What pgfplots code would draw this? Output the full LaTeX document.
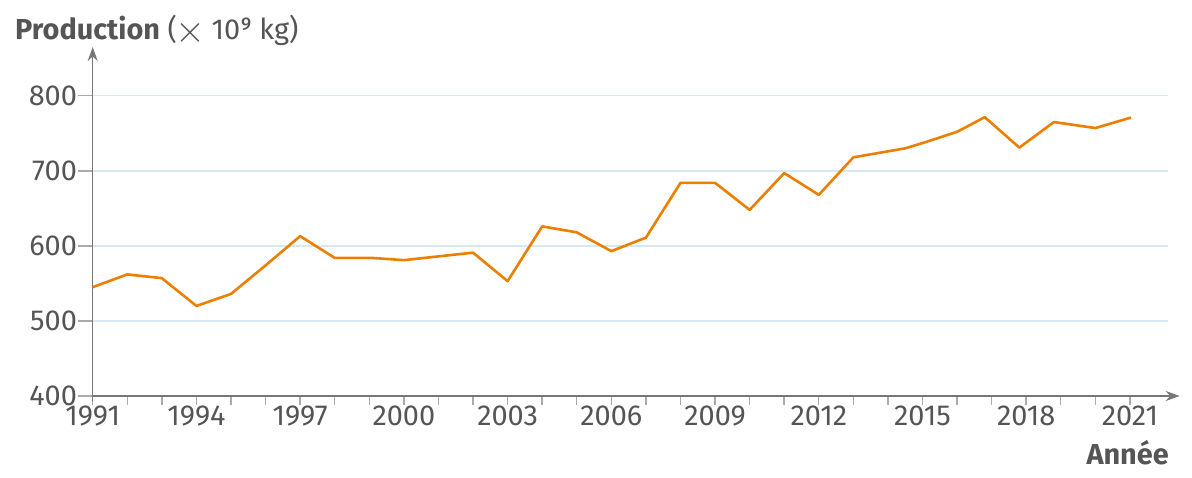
\documentclass[border=0pt]{standalone}
\usepackage{graphicx}
\usepackage{pgfplots}
\pgfplotsset{compat=1.18}
\usetikzlibrary{arrows.meta}
\usepackage{fontspec}
\setmainfont{Fira Sans}
\definecolor{txt}{HTML}{555555}
\definecolor{axisgray}{HTML}{777777}
\definecolor{tickgray}{HTML}{AAAAAA}
\definecolor{gridblue}{HTML}{D3E9F3}
\definecolor{lineorange}{HTML}{EC7F00}
\begin{document}
\begin{tikzpicture}
\useasboundingbox (-92.7bp,-82bp) rectangle (1099.3bp,396bp);
\begin{axis}[
  at={(0,0)}, anchor=south west,
  scale only axis,
  width=1075bp, height=349bp,
  xmin=1991, xmax=2022.09,
  ymin=400, ymax=865,
  axis x line=bottom, axis y line=left,
  axis line style={axisgray, line width=1.6bp},
  x axis line style={-{Stealth[length=14bp,width=10bp]}, shorten >=-12bp},
  y axis line style={-{Stealth[length=14bp,width=10bp]}, shorten <=-5bp},
  clip=false,
  ytick={400,500,600,700,800},
  xtick={1991,1994,...,2021},
  minor xtick={1991,...,2021},
  tick align=outside,
  ymajorgrids,
  grid style={gridblue, line width=1.4bp},
  every tick label/.style={font=\fontsize{29}{32}\selectfont, text=txt},
  /pgf/number format/assume math mode=true,
  /pgf/number format/1000 sep={},
  xtick style={tickgray, line width=1.4bp, /pgfplots/major tick length=9bp, /pgfplots/minor tick length=9bp},
  ytick style={tickgray, line width=1.4bp, /pgfplots/major tick length=15bp},
  xticklabel style={yshift=-2bp},
  yticklabel style={xshift=-8bp},
]
\addplot[lineorange, line width=2.6bp, line join=round] coordinates {
(1991,545) (1992,562) (1993,557) (1994,520) (1995,536) (1996,574)
(1997,613) (1998,584) (1999.07,584) (2000,581) (2001,586) (2002,591)
(2003,553) (2004,626) (2005,618) (2006,593) (2007,611) (2008,684)
(2009,684) (2010,648) (2011,697) (2012,668) (2013,718) (2014.5,730)
(2015.07,738) (2016,752) (2016.8,771.5) (2017.8,731) (2018.8,765)
(2020,757) (2021.03,771)
};
\end{axis}
\node[anchor=base west, text=txt, font=\fontsize{29}{32}\selectfont, inner sep=0pt] at (-77.7bp,356.7bp) {\textbf{Production} (\hspace{-2bp}\raisebox{-3bp}{\scalebox{1.55}{$\times$}}\hspace{-1bp} 10⁹ kg)};
\node[anchor=base east, text=txt, font=\fontsize{29}{32}\selectfont\bfseries, inner sep=0pt] at (1076.3bp,-68bp) {Année};
\end{tikzpicture}
\end{document}
